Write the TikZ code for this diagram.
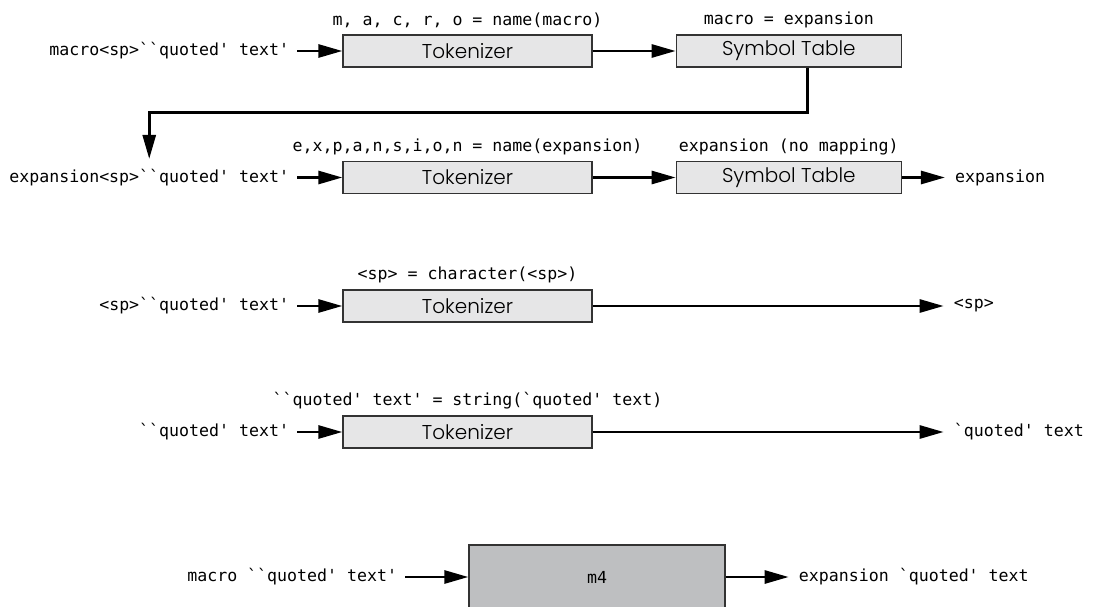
\documentclass[tikz,border=0pt]{standalone}
\usepackage{fontspec}
\setmainfont{Poppins}[UprightFont=* Light]
\setmonofont{DejaVu Sans Mono}
\usetikzlibrary{positioning, arrows.meta}
\definecolor{boxgray}{HTML}{E6E6E7}
\definecolor{mfourgray}{HTML}{BEBFC1}
\definecolor{edgegray}{HTML}{333333}

\begin{document}
\begin{tikzpicture}[x=1pt, y=-1pt, node distance=50pt,
		procbox/.style={draw=edgegray, line width=1.3pt, fill=boxgray, minimum width=249pt, minimum height=32pt, inner sep=0pt, font=\fontsize{20}{22}\selectfont},
		tablebox/.style={procbox, minimum width=225pt},
		lbl/.style={font=\ttfamily\fontsize{16.6}{20}\selectfont, inner sep=3pt},
		flow/.style={line width=2.8pt, -{Triangle[length=24pt, width=13pt]}},
		flowin/.style={flow, shorten <=5pt},
		flowout/.style={flow, shorten >=7pt}]
	\useasboundingbox (0,0) rectangle (1094,607);
	% macro lookup
	\node[procbox] (tok1) at (467.5,51) {Tokenizer};
	\node[tablebox, right=83pt of tok1] (st1) {Symbol Table};
	\node[lbl, above=3pt of tok1] (l1) {m, a, c, r, o = name(macro)};
	\node[lbl, above=3pt of st1] (l2) {macro = expansion};
	\node[lbl, left=of tok1] (in1) {macro<sp>``quoted' text'};
	\draw[flowin] (in1) -- (tok1);
	\draw[flow] (tok1) -- (st1);
	% expansion rescanned
	\node[procbox] (tok2) at (467.5,177.5) {Tokenizer};
	\node[tablebox, right=83pt of tok2] (st2) {Symbol Table};
	\node[lbl, above=3pt of tok2] (l3) {e,x,p,a,n,s,i,o,n = name(expansion)};
	\node[lbl, above=3pt of st2] (l4) {expansion (no mapping)};
	\node[lbl, left=of tok2] (in2) {expansion<sp>``quoted' text'};
	\node[lbl, right=of st2] (out2) {expansion};
	\draw[flowin] (in2) -- (tok2);
	\draw[flow] (tok2) -- (st2);
	\draw[flowout] (st2) -- (out2);
	\draw[flowout] ([xshift=18.5pt]st1.south) -- ++(0,45) -| (in2.north);
	% space
	\node[procbox] (tok3) at (467.5,306) {Tokenizer};
	\node[lbl, above=3pt of tok3] (l5) {<sp> = character(<sp>)};
	\node[lbl, left=of tok3] (in3) {<sp>``quoted' text'};
	\node[lbl, right=358pt of tok3] (out3) {<sp>};
	\draw[flowin] (in3) -- (tok3);
	\draw[flowout] (tok3) -- (out3);
	% quoted string
	\node[procbox] (tok4) at (467.5,432) {Tokenizer};
	\node[lbl, above=3pt of tok4] (l6) {``quoted' text' = string(`quoted' text)};
	\node[lbl, left=of tok4] (in4) {``quoted' text'};
	\node[lbl, right=358pt of tok4] (out4) {`quoted' text};
	\draw[flowin] (in4) -- (tok4);
	\draw[flowout] (tok4) -- (out4);
	% whole of m4
	\node[procbox, fill=mfourgray, minimum width=256pt, minimum height=64pt, font=\ttfamily\fontsize{16.6}{20}\selectfont] (m4) at (597,577) {m4};
	\node[lbl, left=68pt of m4] (in5) {macro ``quoted' text'};
	\node[lbl, right=70pt of m4] (out5) {expansion `quoted' text};
	\draw[flowin] (in5) -- (m4);
	\draw[flowout] (m4) -- (out5);
\end{tikzpicture}
\end{document}
